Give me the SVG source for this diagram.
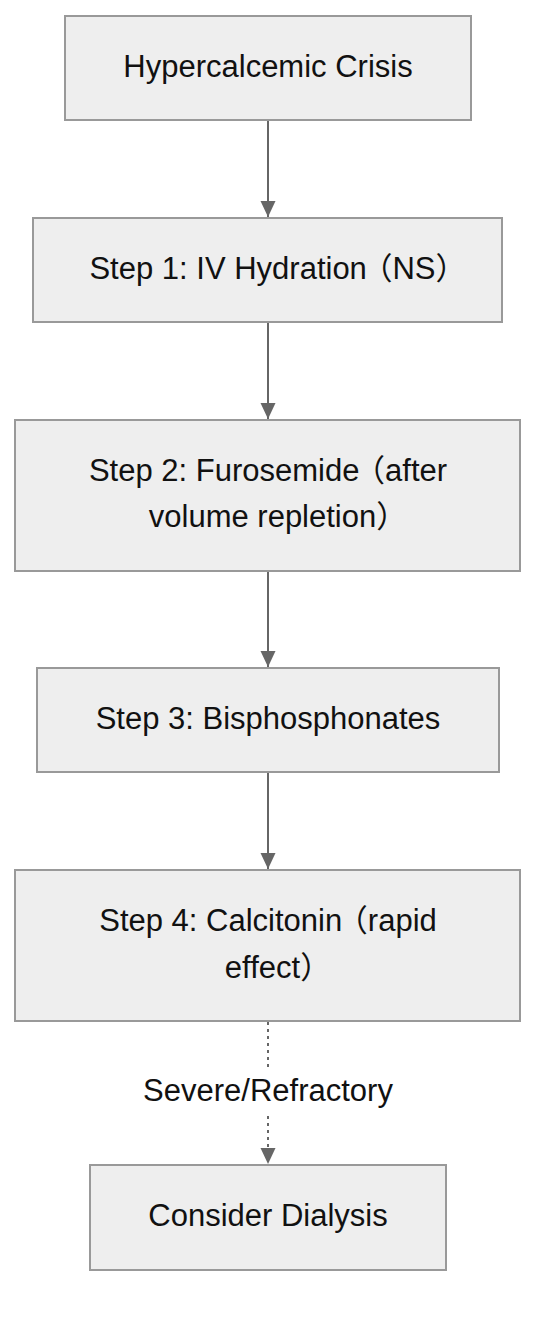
<svg xmlns="http://www.w3.org/2000/svg" width="552" height="1324" viewBox="0 0 552 1324">
<style>
.box{fill:#eeeeee;stroke:#999999;stroke-width:2}
.t{font-family:"Liberation Sans",Arial,"Noto Sans CJK SC",sans-serif;font-size:31px;fill:#111111;text-anchor:middle;dominant-baseline:central}
.c{letter-spacing:-20px}
.e{stroke:#666666;stroke-width:2;fill:none}
.d{stroke-dasharray:3,4}
</style>
<defs>
<marker id="a" viewBox="0 0 16 16" refX="16" refY="8" markerWidth="16" markerHeight="16" markerUnits="userSpaceOnUse" orient="auto">
<path d="M0,0.5 L16,8 L0,15.5 z" fill="#666666"/>
</marker>
</defs>
<g id="edges">
<path class="e" d="M268,121 L268,217" marker-end="url(#a)"/>
<path class="e" d="M268,323 L268,419" marker-end="url(#a)"/>
<path class="e" d="M268,572 L268,667" marker-end="url(#a)"/>
<path class="e" d="M268,773 L268,869" marker-end="url(#a)"/>
<path class="e d" d="M268,1022 L268,1070"/>
<path class="e d" d="M268,1116 L268,1164" marker-end="url(#a)"/>
<text class="t" x="268" y="1090">Severe/Refractory</text>
</g>
<g id="n1"><rect class="box" x="65" y="16" width="406" height="104"/><text class="t" x="268" y="66">Hypercalcemic Crisis</text></g>
<g id="n2"><rect class="box" x="33" y="218" width="469" height="104"/><text class="t" x="268" y="268">Step 1: IV Hydration <tspan dx="-14">（</tspan>NS<tspan class="c">）</tspan></text></g>
<g id="n3"><rect class="box" x="15" y="420" width="505" height="151"/><text class="t" x="268" y="470">Step 2: Furosemide <tspan dx="-14">（</tspan>after</text><text class="t" x="268" y="516">volume repletion<tspan class="c">）</tspan></text></g>
<g id="n4"><rect class="box" x="37" y="668" width="462" height="104"/><text class="t" x="268" y="718">Step 3: Bisphosphonates</text></g>
<g id="n5"><rect class="box" x="15" y="870" width="505" height="151"/><text class="t" x="268" y="920">Step 4: Calcitonin <tspan dx="-14">（</tspan>rapid</text><text class="t" x="268" y="967">effect<tspan class="c">）</tspan></text></g>
<g id="n6"><rect class="box" x="90" y="1165" width="356" height="105"/><text class="t" x="268" y="1215">Consider Dialysis</text></g>
</svg>
